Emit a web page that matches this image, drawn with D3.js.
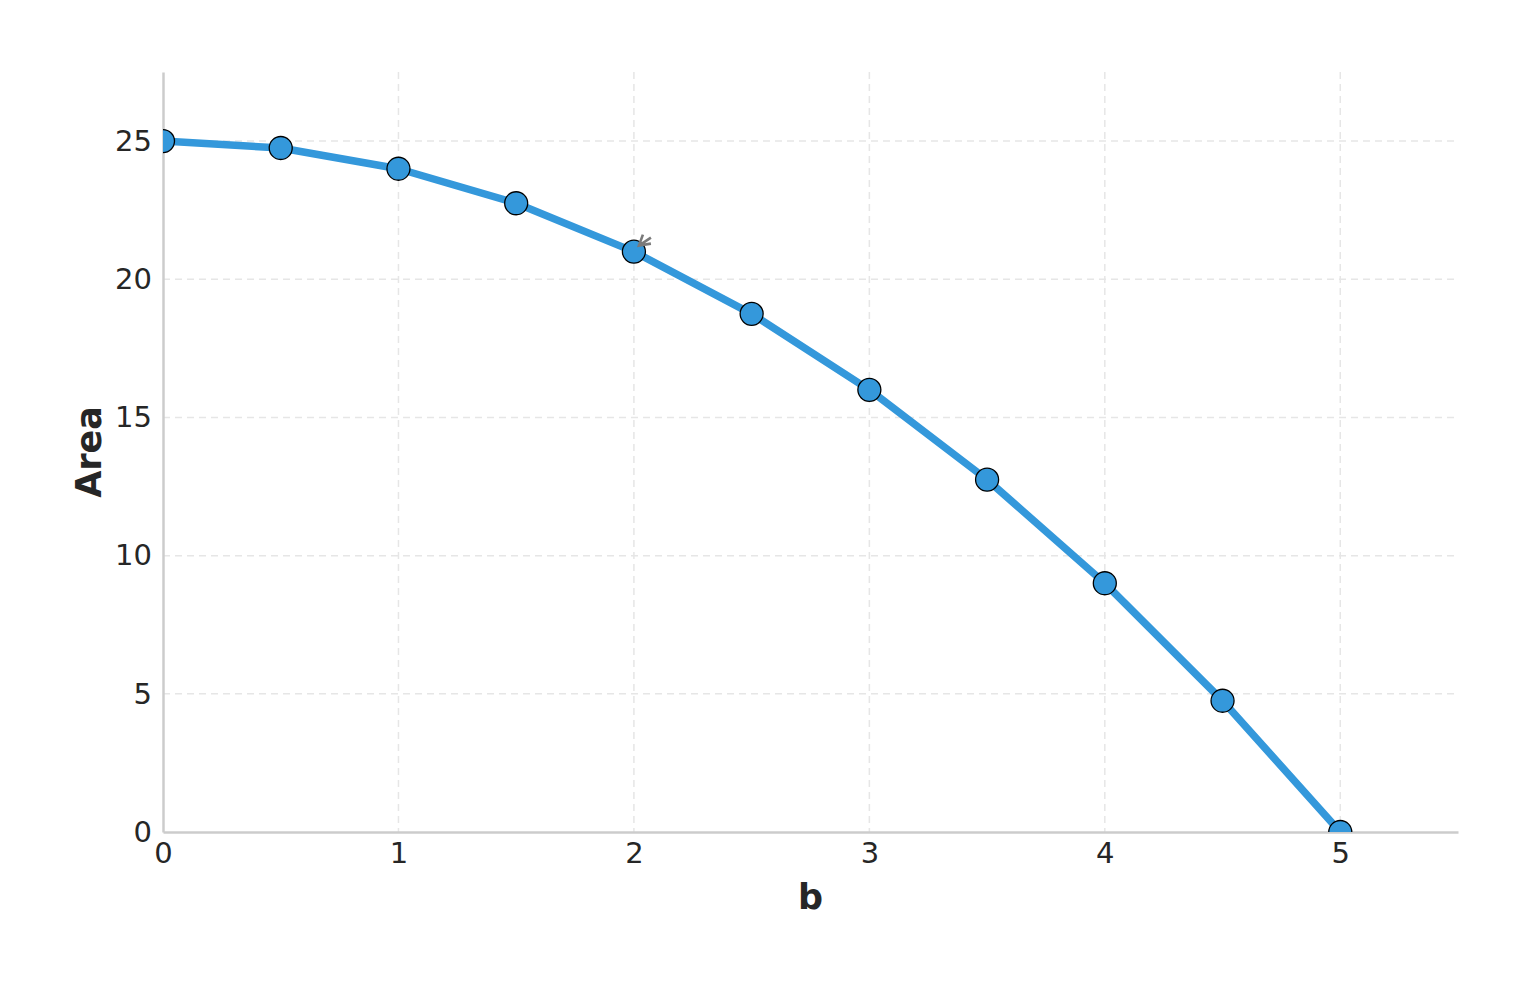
<!DOCTYPE html>
<html><head><meta charset="utf-8">
<script src="https://cdn.jsdelivr.net/npm/d3@7"></script>
<style>body{margin:0;background:#fff}svg{display:block}text{font-family:"DejaVu Sans",sans-serif}</style>
</head><body><svg id="c" width="1530" height="986"></svg>
<script>
const bValues = [0, 0.5, 1, 1.5, 2, 2.5, 3, 3.5, 4, 4.5, 5];
const areaValues = [25, 24.75, 24, 22.75, 21, 18.75, 16, 12.75, 9, 4.75, 0];
const xTicks = [0, 1, 2, 3, 4, 5];
const yTicks = [0, 5, 10, 15, 20, 25];
const data = bValues.map((b, i) => ({b, a: areaValues[i]}));

const svg = d3.select("#c");
const L = 163, R = 1458, T = 72, B = 832;
const x = d3.scaleLinear().domain([0, 5.5]).range([L, R]);
const y = d3.scaleLinear().domain([0, 27.5]).range([B, T]);

svg.append("defs").append("clipPath").attr("id", "clip")
  .append("rect").attr("x", L).attr("y", T).attr("width", R - L).attr("height", B - T);

// grid
const grid = svg.append("g");
grid.selectAll(".gx").data(xTicks.filter(d => d > 0)).enter().append("line")
  .attr("x1", d => x(d)).attr("x2", d => x(d)).attr("y1", T).attr("y2", B)
  .attr("stroke", "#e6e6e6").attr("stroke-width", 1.5).attr("stroke-dasharray", "7,5");
grid.selectAll(".gy").data(yTicks.filter(d => d > 0)).enter().append("line")
  .attr("y1", d => y(d)).attr("y2", d => y(d)).attr("x1", L).attr("x2", R)
  .attr("stroke", "#e6e6e6").attr("stroke-width", 1.5).attr("stroke-dasharray", "7,5");

// axes
const xAxis = svg.append("g").attr("transform", `translate(0,${B})`)
  .call(d3.axisBottom(x).tickValues(xTicks).tickSize(0).tickPadding(10).tickFormat(d3.format("d")));
const yAxis = svg.append("g").attr("transform", `translate(${L},0)`)
  .call(d3.axisLeft(y).tickValues(yTicks).tickSize(0).tickPadding(11).tickFormat(d3.format("d")));
[xAxis, yAxis].forEach(g => {
  g.select(".domain").attr("stroke", "#cccccc").attr("stroke-width", 2.5);
  g.selectAll("text").attr("font-size", 29).attr("fill", "#262626").attr("font-family", "DejaVu Sans");
});
xAxis.selectAll("text").attr("dy", "0.71em");

// labels
svg.append("text").attr("x", (L + R) / 2).attr("y", 909).attr("text-anchor", "middle")
  .attr("font-size", 35).attr("font-weight", "bold").attr("fill", "#262626").text("b");
svg.append("text").attr("transform", `translate(101,${(T + B) / 2}) rotate(-90)`)
  .attr("text-anchor", "middle").attr("font-size", 35).attr("font-weight", "bold").attr("fill", "#262626").text("Area");

const plot = svg.append("g").attr("clip-path", "url(#clip)");
const line = d3.line().x(d => x(d.b)).y(d => y(d.a));
plot.append("path").datum(data).attr("d", line).attr("fill", "none")
  .attr("stroke", "#3498db").attr("stroke-width", 7.5).attr("stroke-linejoin", "round").attr("stroke-linecap", "round");
plot.selectAll("circle").data(data).enter().append("circle")
  .attr("cx", d => x(d.b)).attr("cy", d => y(d.a)).attr("r", 11.5)
  .attr("fill", "#3498db").attr("stroke", "#000").attr("stroke-width", 1.3);

// small annotation arrow at b=2
const ax = x(2), ay = y(21);
svg.append("path")
  .attr("d", `M${ax + 17},${ay - 14} L${ax + 5},${ay - 6} M${ax + 9},${ay - 17} L${ax + 5},${ay - 6} L${ax + 17},${ay - 8}`)
  .attr("fill", "none").attr("stroke", "#7a7a7a").attr("stroke-width", 2.6);
</script></body></html>
